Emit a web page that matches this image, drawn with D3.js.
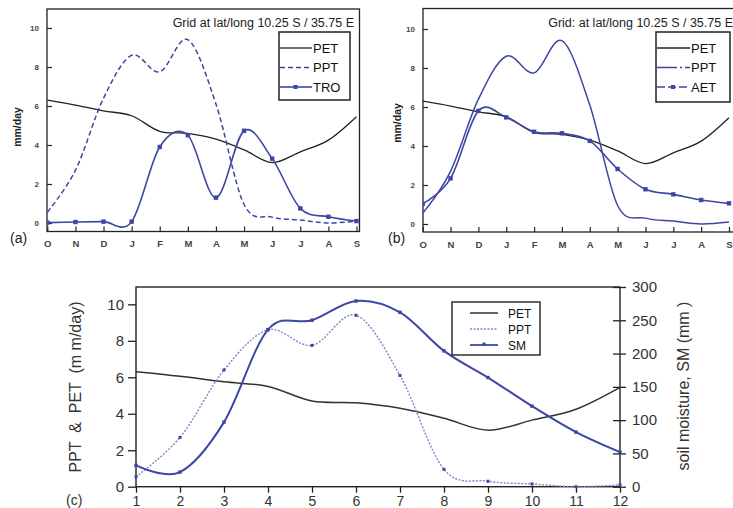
<!DOCTYPE html>
<html>
<head>
<meta charset="utf-8">
<script src="https://cdn.jsdelivr.net/npm/d3@7"></script>
<style>
  html, body { margin: 0; padding: 0; background: #fff; }
  svg { display: block; font-family: "Liberation Sans", Arial, sans-serif; }
</style>
</head>
<body>
<svg id="chart" width="733" height="508"></svg>
<script>
// Monthly water balance, Oct–Sep, grid cell 10.25 S / 35.75 E
const monthLabels = ["O", "N", "D", "J", "F", "M", "A", "M", "J", "J", "A", "S"];
const monthNumbers = [1, 2, 3, 4, 5, 6, 7, 8, 9, 10, 11, 12];
const petValues = [6.3, 6.05, 5.75, 5.5, 4.7, 4.6, 4.3, 3.75, 3.1, 3.65, 4.25, 5.45];   // mm/day
const pptValues = [0.55, 2.7, 6.4, 8.6, 7.75, 9.4, 6.1, 0.95, 0.3, 0.15, 0.0, 0.1];    // mm/day
const troValues = [0.02, 0.05, 0.07, 0.07, 3.9, 4.5, 1.3, 4.73, 3.3, 0.75, 0.32, 0.1]; // mm/day
const aetValues = [1.03, 2.34, 5.8, 5.47, 4.73, 4.65, 4.26, 2.82, 1.78, 1.52, 1.23, 1.06]; // mm/day
const smValues = [32, 22, 97, 236, 250, 279, 262, 204, 164, 121, 82, 52];               // mm
const leftTicks = [0, 2, 4, 6, 8, 10];
const smTicks = [0, 50, 100, 150, 200, 250, 300];
const gridTitleA = "Grid at lat/long 10.25 S / 35.75 E";
const gridTitleB = "Grid: at lat/long 10.25 S / 35.75 E";

const BLUE = "#3d46a6";
const LIGHT_BLUE = "#7d85cc";
const INK = "#222";

const svg = d3.select("#chart");
const curve = d3.curveCardinal.tension(0);

// ---------- small panels (a) and (b) ----------
function smallPanel(opts) {
  const g = svg.append("g");
  const x = d3.scaleLinear().domain([0, 11]).range([opts.x0, opts.x11]);
  const y = d3.scaleLinear().domain([0, 10]).range([opts.y0, opts.y10]);
  const idx = d3.range(12);

  const clipId = "clip-" + opts.tag;
  svg.append("clipPath").attr("id", clipId)
    .append("rect").attr("x", opts.left).attr("y", opts.top)
    .attr("width", opts.right - opts.left).attr("height", opts.bottom - opts.top);

  // frame
  g.append("rect")
    .attr("x", opts.left).attr("y", opts.top)
    .attr("width", opts.right - opts.left).attr("height", opts.bottom - opts.top)
    .attr("fill", "none").attr("stroke", "#222").attr("stroke-width", 1.3);

  // left axis with inward ticks
  const yAxis = d3.axisLeft(y).tickValues(leftTicks).tickSize(-5).tickPadding(8);
  const ya = g.append("g").attr("transform", `translate(${opts.left},0)`).call(yAxis);
  ya.select(".domain").remove();
  ya.selectAll("line").attr("stroke", "#222").attr("stroke-width", 1.2);
  ya.selectAll("text").attr("font-size", 8).attr("font-weight", "bold").attr("fill", "#444");

  // bottom axis with inward ticks and month letters
  const xAxis = d3.axisBottom(x).tickValues(idx).tickSize(-5).tickPadding(9)
    .tickFormat(i => monthLabels[i]);
  const xa = g.append("g").attr("transform", `translate(0,${opts.bottom})`).call(xAxis);
  xa.select(".domain").remove();
  xa.selectAll("line").attr("stroke", "#222").attr("stroke-width", 1.2);
  xa.selectAll("text").attr("font-size", 9.5).attr("font-weight", "bold").attr("fill", "#444");

  // axis title
  g.append("text")
    .attr("transform", `translate(${opts.ylabX},${opts.ylabY}) rotate(-90)`)
    .attr("text-anchor", "middle").attr("font-size", 10.5).attr("font-weight", "bold")
    .attr("fill", "#222").text("mm/day");

  // panel letter
  g.append("text").attr("x", opts.letterX).attr("y", 243)
    .attr("font-size", 14).attr("fill", "#222").text(opts.letter);

  // grid title
  g.append("text").attr("x", opts.titleX).attr("y", 27)
    .attr("text-anchor", "end").attr("font-size", 12.5).attr("fill", "#222")
    .text(opts.title);

  const plot = g.append("g").attr("clip-path", `url(#${clipId})`);
  const line = vals => d3.line().x(i => x(i)).y(i => y(vals[i])).curve(curve)(idx);

  opts.series.forEach(s => {
    plot.append("path").attr("d", line(s.values))
      .attr("fill", "none").attr("stroke", s.color).attr("stroke-width", s.width)
      .attr("stroke-dasharray", s.dash || null);
    if (s.markers) {
      plot.selectAll(null).data(idx).enter().append("rect")
        .attr("x", i => x(i) - 2.2).attr("y", i => y(s.values[i]) - 2.2)
        .attr("width", 4.4).attr("height", 4.4).attr("fill", s.color);
    }
  });

  // legend
  const lg = g.append("g");
  lg.append("rect").attr("x", opts.lgX).attr("y", opts.lgY)
    .attr("width", opts.lgW).attr("height", opts.lgH)
    .attr("fill", "#fff").attr("stroke", "#222").attr("stroke-width", 1.5);
  opts.series.forEach((s, k) => {
    const ly = opts.lgY + 16 + k * 19.5;
    lg.append("line").attr("x1", opts.lgX + 1).attr("x2", opts.lgX + opts.lgLine)
      .attr("y1", ly).attr("y2", ly)
      .attr("stroke", s.color).attr("stroke-width", s.width)
      .attr("stroke-dasharray", s.legendDash || s.dash || null);
    if (s.markers) {
      lg.append("rect").attr("x", opts.lgX + opts.lgLine / 2 - 2).attr("y", ly - 2)
        .attr("width", 4).attr("height", 4).attr("fill", s.color);
    }
    lg.append("text").attr("x", opts.lgX + opts.lgLine + 1).attr("y", ly + 4.5)
      .attr("font-size", 13).attr("fill", "#111").text(s.name);
  });
}

smallPanel({
  tag: "a", letter: "(a)", letterX: 10, title: gridTitleA, titleX: 354,
  x0: 47.3, x11: 356.5, y0: 223, y10: 28,
  left: 47, right: 359.5, top: 9, bottom: 231.5,
  ylabX: 21, ylabY: 127,
  lgX: 279, lgY: 32, lgW: 71, lgH: 68, lgLine: 33,
  series: [
    { name: "PET", values: petValues, color: INK, width: 1.3 },
    { name: "PPT", values: pptValues, color: BLUE, width: 1.5, dash: "5,3" },
    { name: "TRO", values: troValues, color: BLUE, width: 1.6, markers: true }
  ]
});

smallPanel({
  tag: "b", letter: "(b)", letterX: 388, title: gridTitleB, titleX: 733,
  x0: 422.7, x11: 729, y0: 224, y10: 29,
  left: 423, right: 734, top: 8.5, bottom: 232,
  ylabX: 401, ylabY: 123,
  lgX: 656, lgY: 32, lgW: 74, lgH: 70, lgLine: 34,
  series: [
    { name: "PET", values: petValues, color: INK, width: 1.3 },
    { name: "PPT", values: pptValues, color: BLUE, width: 1.5, legendDash: "20,3,2,3" },
    { name: "AET", values: aetValues, color: BLUE, width: 1.6, markers: true, legendDash: "8,3" }
  ]
});

// ---------- panel (c): PPT & PET with soil moisture on a second axis ----------
(function () {
  const L = 136, R = 620, T = 287, B = 486.7;
  const g = svg.append("g");
  const x = d3.scaleLinear().domain([1, 12]).range([L, R]);
  const yL = d3.scaleLinear().domain([0, 11]).range([B, 286.1]);
  const yR = d3.scaleLinear().domain([0, 300]).range([B, T]);

  // frame lines: top, left, right, bottom
  g.append("rect").attr("x", L).attr("y", T).attr("width", R - L).attr("height", B - T)
    .attr("fill", "none").attr("stroke", "#222").attr("stroke-width", 1.4);

  const ya = g.append("g").attr("transform", `translate(${L},0)`)
    .call(d3.axisLeft(yL).tickValues(leftTicks).tickSize(8).tickPadding(4));
  ya.select(".domain").remove();
  ya.selectAll("line").attr("stroke", "#222").attr("stroke-width", 1.3);
  ya.selectAll("text").attr("font-size", 15).attr("fill", "#333");

  const xa = g.append("g").attr("transform", `translate(0,${B})`)
    .call(d3.axisBottom(x).tickValues(monthNumbers).tickSize(6).tickPadding(3));
  xa.select(".domain").remove();
  xa.selectAll("line").attr("stroke", "#222").attr("stroke-width", 1.3);
  xa.selectAll("text").attr("font-size", 14).attr("fill", "#333");

  const ra = g.append("g").attr("transform", `translate(${R},0)`)
    .call(d3.axisRight(yR).tickValues(smTicks).tickSize(6).tickPadding(6));
  ra.select(".domain").remove();
  ra.selectAll("line").attr("x1", -7).attr("stroke", "#222").attr("stroke-width", 1.3);
  ra.selectAll("text").attr("font-size", 15).attr("fill", "#333");

  g.append("text").attr("transform", `translate(81,387) rotate(-90)`)
    .attr("text-anchor", "middle").attr("font-size", 16).attr("fill", "#333")
    .attr("xml:space", "preserve").text("PPT  &  PET  (m m/day)");
  g.append("text").attr("transform", `translate(689,386) rotate(-90)`)
    .attr("text-anchor", "middle").attr("font-size", 16).attr("fill", "#333")
    .attr("xml:space", "preserve").text("soil moisture, SM (mm )");
  g.append("text").attr("x", 66).attr("y", 505).attr("font-size", 14)
    .attr("fill", "#333").text("(c)");

  const idx = d3.range(12);
  const lineL = vals => d3.line().x(i => x(monthNumbers[i])).y(i => yL(vals[i])).curve(curve)(idx);
  const lineR = vals => d3.line().x(i => x(monthNumbers[i])).y(i => yR(vals[i])).curve(curve)(idx);

  g.append("path").attr("d", lineL(petValues)).attr("fill", "none")
    .attr("stroke", "#333").attr("stroke-width", 1.5);
  g.append("path").attr("d", lineL(pptValues)).attr("fill", "none")
    .attr("stroke", LIGHT_BLUE).attr("stroke-width", 1.4).attr("stroke-dasharray", "2,1.5");
  g.selectAll(null).data(idx).enter().append("rect")
    .attr("x", i => x(monthNumbers[i]) - 1.5).attr("y", i => yL(pptValues[i]) - 1.5)
    .attr("width", 3).attr("height", 3).attr("fill", BLUE);
  g.append("path").attr("d", lineR(smValues)).attr("fill", "none")
    .attr("stroke", BLUE).attr("stroke-width", 2);
  g.selectAll(null).data(idx).enter().append("rect")
    .attr("x", i => x(monthNumbers[i]) - 1.7).attr("y", i => yR(smValues[i]) - 1.7)
    .attr("width", 3.4).attr("height", 3.4).attr("fill", BLUE);

  // legend
  const lg = g.append("g");
  lg.append("rect").attr("x", 452).attr("y", 302).attr("width", 88).attr("height", 53)
    .attr("fill", "#fff").attr("stroke", "#222").attr("stroke-width", 1.4);
  const items = [
    { name: "PET", color: "#222", width: 1.4 },
    { name: "PPT", color: LIGHT_BLUE, width: 1.6, dash: "2,1.5" },
    { name: "SM", color: BLUE, width: 1.8, marker: true }
  ];
  items.forEach((s, k) => {
    const ly = 313 + k * 16;
    lg.append("line").attr("x1", 470).attr("x2", 498).attr("y1", ly).attr("y2", ly)
      .attr("stroke", s.color).attr("stroke-width", s.width)
      .attr("stroke-dasharray", s.dash || null);
    if (s.marker) {
      lg.append("rect").attr("x", 482.5).attr("y", ly - 2.5).attr("width", 3).attr("height", 3)
        .attr("fill", s.color);
    }
    lg.append("text").attr("x", 508).attr("y", ly + 4.5).attr("font-size", 12)
      .attr("fill", "#111").text(s.name);
  });
})();
</script>
</body>
</html>
